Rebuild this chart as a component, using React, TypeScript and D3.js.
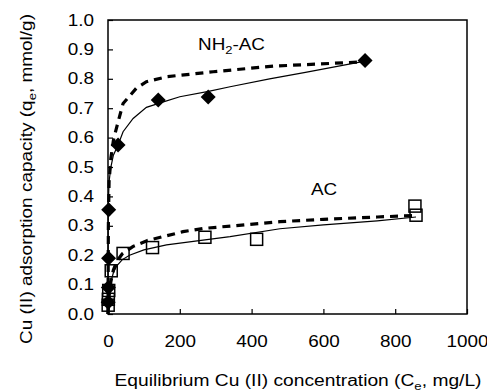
import {useEffect, useRef} from "react";
import * as d3 from "d3";

// measured points (Ce mg/L, qe mmol/g)
const nh2Ce = [0.5, 1, 1.5, 2, 28, 140, 279, 716];
const nh2Qe = [0.04, 0.09, 0.19, 0.355, 0.575, 0.728, 0.738, 0.862];
const acCe = [0.5, 1, 2, 9, 42, 124, 270, 414, 855, 858];
const acQe = [0.03, 0.05, 0.08, 0.147, 0.206, 0.226, 0.261, 0.254, 0.367, 0.336];

// fitted curves
const nh2SolidCe = [0, 0.5, 1, 3, 8, 15, 28, 42, 70, 107, 150, 200, 280, 340, 450, 550, 716];
const nh2SolidQe = [0, 0.3, 0.38, 0.45, 0.5, 0.54, 0.575, 0.62, 0.665, 0.703, 0.72, 0.739, 0.757, 0.773, 0.8, 0.822, 0.86];
const nh2DashCe = [0, 1, 3, 8, 15, 23, 42, 79, 107, 163, 293, 460, 716];
const nh2DashQe = [0, 0.3, 0.45, 0.53, 0.59, 0.63, 0.716, 0.768, 0.79, 0.807, 0.824, 0.843, 0.858];
const acSolidCe = [0, 1, 3, 8, 15, 25, 40, 60, 100, 163, 270, 340, 479, 600, 750, 858];
const acSolidQe = [0, 0.04, 0.07, 0.11, 0.14, 0.165, 0.185, 0.2, 0.218, 0.235, 0.252, 0.263, 0.29, 0.303, 0.317, 0.33];
const acDashCe = [0, 3, 8, 15, 25, 40, 70, 110, 153, 209, 265, 350, 479, 600, 750, 858];
const acDashQe = [0, 0.06, 0.11, 0.15, 0.18, 0.205, 0.23, 0.25, 0.263, 0.28, 0.291, 0.3, 0.314, 0.322, 0.33, 0.335];

const xTicks = [0, 200, 400, 600, 800, 1000];
const yTicks = [0, 0.1, 0.2, 0.3, 0.4, 0.5, 0.6, 0.7, 0.8, 0.9, 1.0];

// the original's lettering is a bit wider than Arial
const stretch = 1.18;

const App = () => {
	const svgRef = useRef<SVGSVGElement>(null);

	useEffect(() => {
		const width = 487;
		const height = 391;
		const left = 108;
		const right = 467;
		const top = 20;
		const bottom = 314;
		const font = "Arial, 'Liberation Sans', sans-serif";

		const x = d3.scaleLinear().domain([0, 1000]).range([left, right]);
		const y = d3.scaleLinear().domain([0, 1]).range([bottom, top]);

		const svg = d3.select(svgRef.current).attr("width", width).attr("height", height);
		svg.selectAll("*").remove();

		svg.append("rect").attr("width", width).attr("height", height).attr("fill", "#fff");

		// frame
		svg.append("rect")
			.attr("x", left)
			.attr("y", top)
			.attr("width", right - left)
			.attr("height", bottom - top)
			.attr("fill", "none")
			.attr("stroke", "#000")
			.attr("stroke-width", 1.5);

		// y axis
		const yAxis = svg.append("g")
			.attr("transform", `translate(${left},0)`)
			.call(d3.axisRight(y).tickValues(yTicks).tickSize(5).tickFormat(d3.format(".1f")));
		yAxis.select(".domain").remove();
		yAxis.selectAll(".tick line").attr("stroke", "#000").attr("stroke-width", 1.2);
		yAxis.selectAll(".tick text")
			.attr("x", -14)
			.attr("text-anchor", "end")
			.attr("font-family", font)
			.attr("font-size", 16)
			.attr("fill", "#000");

		// x axis
		const xAxis = svg.append("g")
			.attr("transform", `translate(0,${bottom})`)
			.call(d3.axisTop(x).tickValues(xTicks).tickSize(5).tickFormat(d3.format("d")));
		xAxis.select(".domain").remove();
		xAxis.selectAll(".tick line").attr("stroke", "#000").attr("stroke-width", 1.2);
		xAxis.selectAll(".tick text")
			.attr("y", 27)
			.attr("dy", "0.35em")
			.attr("font-family", font)
			.attr("font-size", 16)
			.attr("fill", "#000");

		const line = d3.line<[number, number]>()
			.x((d) => x(d[0]))
			.y((d) => y(d[1]));

		const curves = [
			{ce: nh2SolidCe, qe: nh2SolidQe, dash: false},
			{ce: nh2DashCe, qe: nh2DashQe, dash: true},
			{ce: acSolidCe, qe: acSolidQe, dash: false},
			{ce: acDashCe, qe: acDashQe, dash: true},
		];
		curves.forEach((c) => {
			svg.append("path")
				.datum(c.ce.map((v, i) => [v, c.qe[i]] as [number, number]))
				.attr("d", line)
				.attr("fill", "none")
				.attr("stroke", "#000")
				.attr("stroke-width", c.dash ? 3.2 : 1.2)
				.attr("stroke-dasharray", c.dash ? "8,6" : null);
		});

		// AC squares
		svg.append("g")
			.selectAll("rect")
			.data(acCe.map((v, i) => [v, acQe[i]]))
			.enter()
			.append("rect")
			.attr("x", (d) => x(d[0]) - 6)
			.attr("y", (d) => y(d[1]) - 6)
			.attr("width", 12)
			.attr("height", 12)
			.attr("fill", "none")
			.attr("stroke", "#000")
			.attr("stroke-width", 1.5);

		// NH2-AC diamonds
		svg.append("g")
			.selectAll("path")
			.data(nh2Ce.map((v, i) => [v, nh2Qe[i]]))
			.enter()
			.append("path")
			.attr("transform", (d) => `translate(${x(d[0])},${y(d[1])})`)
			.attr("d", "M0,-7.5L7.5,0L0,7.5L-7.5,0Z")
			.attr("fill", "#000");

		// series labels
		const nh2Label = svg.append("text")
			.attr("x", 198)
			.attr("y", 50)
			.attr("font-family", font)
			.attr("font-size", 16)
			.attr("fill", "#000");
		nh2Label.append("tspan").text("NH");
		nh2Label.append("tspan").attr("dy", 4).attr("font-size", 11).text("2");
		nh2Label.append("tspan").attr("dy", -4).text("-AC");

		svg.append("text")
			.attr("x", 311)
			.attr("y", 195)
			.attr("font-family", font)
			.attr("font-size", 16)
			.attr("fill", "#000")
			.text("AC");

		// axis titles
		const xTitle = svg.append("text")
			.attr("class", "title")
			.attr("x", 298)
			.attr("y", 386)
			.attr("text-anchor", "middle")
			.attr("textLength", 367)
			.attr("lengthAdjust", "spacingAndGlyphs")
			.attr("font-family", font)
			.attr("font-size", 16)
			.attr("fill", "#000");
		xTitle.append("tspan").text("Equilibrium Cu (II) concentration (C");
		xTitle.append("tspan").attr("dy", 4).attr("font-size", 11).text("e");
		xTitle.append("tspan").attr("dy", -4).text(", mg/L)");

		const yTitle = svg.append("text")
			.attr("class", "title")
			.attr("transform", `translate(32,179) rotate(-90)`)
			.attr("text-anchor", "middle")
			.attr("textLength", 330)
			.attr("lengthAdjust", "spacingAndGlyphs")
			.attr("font-family", font)
			.attr("font-size", 16)
			.attr("fill", "#000");
		yTitle.append("tspan").text("Cu (II) adsorption capacity (q");
		yTitle.append("tspan").attr("dy", 4).attr("font-size", 11).text("e");
		yTitle.append("tspan").attr("dy", -4).text(", mmol/g)");

		// widen the other labels to the original's proportions
		svg.selectAll<SVGTextElement, unknown>("text:not(.title)").each(function () {
			const len = this.getComputedTextLength();
			if (len > 0) {
				this.setAttribute("textLength", String(len * stretch));
				this.setAttribute("lengthAdjust", "spacingAndGlyphs");
			}
		});
	}, []);

	return (
		<div style={{position: "fixed", left: 0, top: 0}}>
			<svg ref={svgRef} style={{display: "block"}}></svg>
		</div>
	);
};

export default App;
